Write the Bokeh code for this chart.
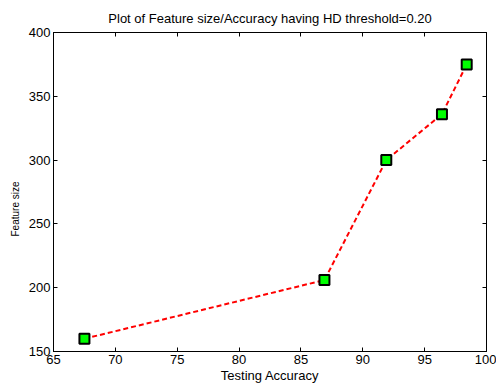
from bokeh.plotting import figure
from bokeh.models import LinearAxis, FixedTicker, Range1d, Title
from bokeh.embed import file_html
from bokeh.resources import INLINE

accuracy = [67.5, 86.9, 91.9, 96.4, 98.4]
feature_size = [160, 206, 300, 336, 375]
x_ticks = [65, 70, 75, 80, 85, 90, 95, 100]
y_ticks = [150, 200, 250, 300, 350, 400]

FONT = "Liberation Sans"

p = figure(width=496, height=385, output_backend="svg", toolbar_location=None,
           x_range=Range1d(65, 100), y_range=Range1d(150, 400),
           min_border_left=53, min_border_right=10, min_border_top=32, min_border_bottom=32,
           title="Plot of Feature size/Accuracy having HD threshold=0.20")
p.title.align = "center"
p.title.text_font = FONT
p.title.text_font_size = "13px"
p.title.text_font_style = "normal"
p.title.text_color = "black"
p.title.standoff = 14

p.xgrid.visible = False
p.ygrid.visible = False
p.outline_line_color = "black"
p.outline_line_width = 1
p.background_fill_color = "white"
p.border_fill_color = "white"

def style(ax, labels=True):
    ax.major_tick_in = 4
    ax.major_tick_out = 0
    ax.minor_tick_line_color = None
    ax.axis_line_color = "black"
    ax.major_tick_line_color = "black"
    ax.major_label_text_font = FONT
    ax.major_label_text_font_size = "13px"
    ax.major_label_text_color = "black"
    ax.axis_label_text_font = FONT
    ax.axis_label_text_font_size = "13px"
    ax.axis_label_text_font_style = "normal"
    ax.axis_label_text_color = "black"
    if not labels:
        ax.major_label_text_font_size = "0px"
        ax.major_label_text_color = None
        ax.major_label_standoff = 0
        ax.axis_label_standoff = 0

p.xaxis.ticker = FixedTicker(ticks=x_ticks)
p.yaxis.ticker = FixedTicker(ticks=y_ticks)
p.xaxis.axis_label = "Testing Accuracy"
p.xaxis.major_label_standoff = 3
p.xaxis.axis_label_standoff = 1
p.yaxis.major_label_standoff = 3
p.yaxis.axis_label_standoff = 0
style(p.xaxis[0])
style(p.yaxis[0])

# y-axis title (slightly below the axis centre, as in the original)
ytitle = Title(text="Feature size", align="left", offset=115, standoff=9,
               text_font=FONT, text_font_size="10px", text_font_style="normal",
               text_color="black")
p.add_layout(ytitle, "left")

top = LinearAxis(ticker=FixedTicker(ticks=x_ticks))
right = LinearAxis(ticker=FixedTicker(ticks=y_ticks))
style(top, labels=False)
style(right, labels=False)
p.add_layout(top, "above")
p.add_layout(right, "right")

p.line(accuracy, feature_size, line_color="red", line_width=2, line_dash="5 3")
p.scatter(accuracy, feature_size, marker="square", size=10, fill_color="#00ff00",
          line_color="black", line_width=2)

open("out.html", "w").write(file_html(p, INLINE))
